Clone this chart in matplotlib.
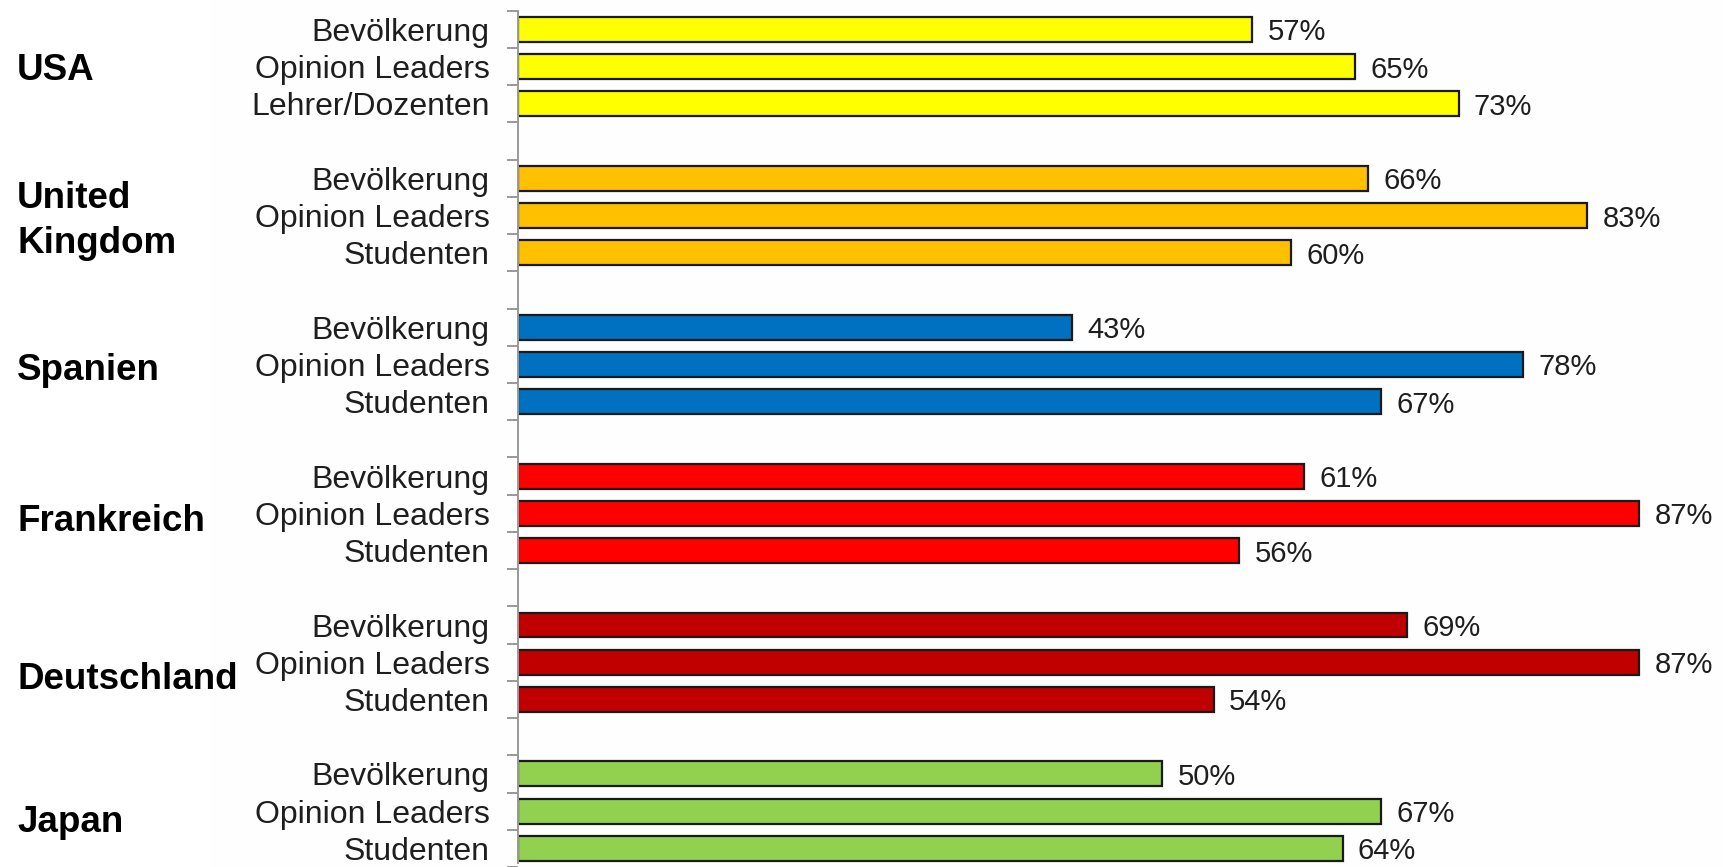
import matplotlib
matplotlib.use("Agg")
import matplotlib.pyplot as plt
from matplotlib.patches import Rectangle
from matplotlib.transforms import blended_transform_factory

# DATA #
countries = ["USA", "United\nKingdom", "Spanien", "Frankreich", "Deutschland", "Japan"]
groups = [
    ["Bevölkerung", "Opinion Leaders", "Lehrer/Dozenten"],
    ["Bevölkerung", "Opinion Leaders", "Studenten"],
    ["Bevölkerung", "Opinion Leaders", "Studenten"],
    ["Bevölkerung", "Opinion Leaders", "Studenten"],
    ["Bevölkerung", "Opinion Leaders", "Studenten"],
    ["Bevölkerung", "Opinion Leaders", "Studenten"],
]
usa = [57, 65, 73]
uk = [66, 83, 60]
spanien = [43, 78, 67]
frankreich = [61, 87, 56]
deutschland = [69, 87, 54]
japan = [50, 67, 64]
values = [usa, uk, spanien, frankreich, deutschland, japan]
colors = ["#FFFF00", "#FFC000", "#0070C0", "#FF0000", "#C00000", "#92D050"]
# END OF DATA #

plt.rcParams["font.family"] = ["Liberation Sans", "DejaVu Sans"]

#LAYOUT#
W, H = 1723, 867
slot = 37.4          # pixel height of one category slot
ax_left = 517.6      # pixel x of the value axis
px_per_pct = 12.89
country_size = 26.5
country_nudge = [0, 2, 2, 5, 14, 8]   # px, downwards
#END OF LAYOUT#

fig = plt.figure(figsize=(W / 100, H / 100), dpi=100)
fig.patch.set_facecolor("white")
fig.patches.append(Rectangle((210 / W, 0), 1, 1, transform=fig.transFigure,
                             facecolor="#fefefe", edgecolor="none", zorder=-10))

ax = fig.add_axes([ax_left / W, 0, 1 - ax_left / W, 1])
ax.set_facecolor("none")
ax.set_xlim(0, (W - ax_left) / px_per_pct)
top = -0.5 - 10.8 / slot
ax.set_ylim(top + H / slot, top)

trans = blended_transform_factory(fig.transFigure, ax.transData)
half_cap = 0.716 * country_size * 100 / 72 / 2
ypos, labels = [], []
for g, (names, vals) in enumerate(zip(groups, values)):
    for i, (n, v) in enumerate(zip(names, vals)):
        y = g * 4 + i
        ypos.append(y)
        labels.append(n)
        ax.barh(y, v, height=0.67, color=colors[g], edgecolor="#1a1a1a", linewidth=1.6)
        ax.annotate(f"{v}%", (v, y), xytext=(11, 0), textcoords="offset points",
                    va="center_baseline", ha="left", fontsize=21, color="#1e1e1e")
    lines = countries[g].split("\n")
    for k, line in enumerate(lines):
        yc = g * 4 + 1 + (country_nudge[g] + (k - (len(lines) - 1) / 2) * 45 + half_cap) / slot
        ax.text(17 / W, yc, line, transform=trans, ha="left", va="baseline",
                fontsize=country_size, fontweight="bold", color="black")

ax.set_yticks(ypos)
ax.set_yticklabels(labels, fontsize=23, color="#1e1e1e")
ax.set_yticks([b - 0.5 for b in range(0, 24)], minor=True)
ax.tick_params(axis="y", which="major", length=0, pad=20)
ax.tick_params(axis="y", which="minor", length=8, width=1.4, color="#999999")
ax.tick_params(axis="x", bottom=False, labelbottom=False)

for s in ["top", "right", "bottom"]:
    ax.spines[s].set_visible(False)
ax.spines["left"].set_color("#999999")
ax.spines["left"].set_linewidth(1.4)
ax.spines["left"].set_bounds(top + H / slot, -0.5)

fig.savefig("out.png", dpi=100)
